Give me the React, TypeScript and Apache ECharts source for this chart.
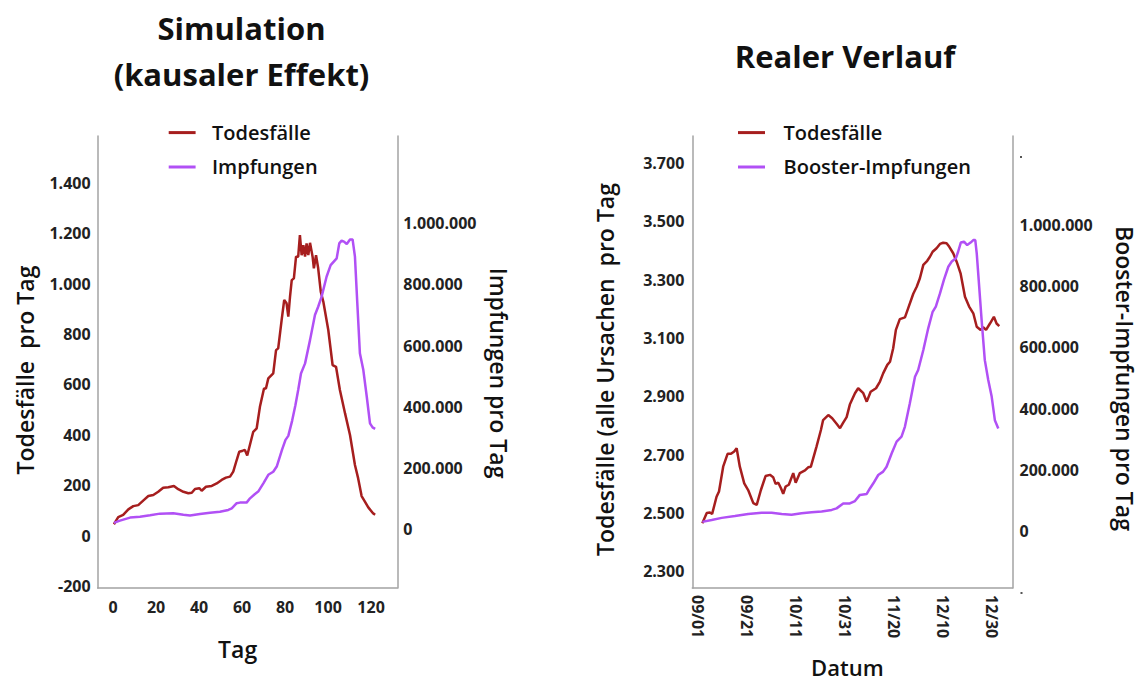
import React, { useEffect, useRef } from "react";
import * as echarts from "echarts";

// ---------- Data ----------
// Simulation (left chart): [Tag, value]
const simDeaths: [number, number][] = [
  [0.4, 45], [2.4, 73], [4.7, 82], [7.1, 104], [9.4, 117], [11.7, 121], [14, 139], [16.4, 157],
  [18.7, 161], [21, 174], [23.3, 190], [25.7, 192], [28.3, 197], [30.3, 184], [32.7, 174], [35, 168],
  [36.6, 170], [38.1, 185], [40.1, 188], [41.2, 178], [43.2, 194], [45.9, 197], [48.2, 207], [50.5, 221],
  [52.5, 230], [54.4, 234], [55.9, 254], [57.5, 300], [58.7, 333], [60.3, 337], [61.3, 340], [62.4, 318],
  [65.2, 412], [66.8, 426], [68.3, 511], [70.2, 584], [71.1, 584], [72.2, 624], [74.5, 644], [75.8, 736],
  [76.8, 743], [78.4, 855], [79.6, 935], [80.7, 922], [81.5, 869], [82.3, 948], [83.1, 1014], [84.1, 1021],
  [85.1, 1107], [86.1, 1107], [86.9, 1193], [87.7, 1113], [88.5, 1153], [89.3, 1107], [90, 1160], [90.8, 1113],
  [91.6, 1162], [92.8, 1107], [93.4, 1061], [94.4, 1113], [95.4, 1061], [96.6, 968], [97.8, 928], [100.1, 816],
  [102.1, 677], [103.7, 670], [105.5, 578], [107.9, 485], [110.2, 399], [112.5, 280], [114, 227], [115.6, 157],
  [117.2, 134], [118.7, 112], [121, 88], [121.9, 83],
];
const simVaccinations: [number, number][] = [
  [0.4, 21000], [3.2, 28000], [7.9, 38000], [12.5, 41000], [17.2, 46000], [21.8, 51000], [28, 52000],
  [32.7, 47000], [35.8, 45000], [40.4, 50000], [45.1, 54000], [49.7, 57000], [53.6, 63000], [55.2, 68000],
  [57.5, 85000], [59, 87000], [62.1, 87000], [63.7, 101000], [66, 115000], [67.5, 123000], [69.9, 150000],
  [72.2, 178000], [74.5, 188000], [76.2, 206000], [78.6, 260000], [80.2, 292000], [81.5, 305000],
  [83.3, 355000], [84.8, 405000], [86.1, 455000], [87.4, 509000], [89.3, 542000], [91.6, 618000],
  [93.9, 700000], [95.4, 727000], [97, 760000], [99.3, 825000], [101.2, 863000], [104, 885000],
  [105.2, 934000], [106.3, 943000], [107.4, 940000], [108.7, 932000], [110.2, 947000], [111.4, 947000],
  [112.5, 891000], [113.6, 738000], [114.8, 575000], [116.4, 520000], [118, 433000], [119.5, 346000],
  [120.7, 333000], [121.9, 328000],
];

// Real course (right chart): [days since 09/01, value]
const realDeaths: [number, number][] = [
  [1.8, 2465], [3.6, 2500], [4.9, 2502], [5.8, 2497], [7.6, 2556], [8.6, 2574], [10.3, 2659], [12.1, 2703],
  [13.5, 2703], [14.8, 2711], [15.8, 2722], [17.1, 2659], [18.9, 2602], [20.5, 2579], [22.6, 2534], [24, 2528],
  [25.7, 2579], [27.6, 2627], [29.4, 2631], [30.7, 2623], [31.7, 2600], [32.8, 2604], [33.9, 2585], [34.8, 2566],
  [35.8, 2591], [37.1, 2597], [38.9, 2637], [39.9, 2604], [41.6, 2637], [43.7, 2646], [45, 2657], [46.1, 2659],
  [48.4, 2728], [50.2, 2785], [51.1, 2819], [53.2, 2836], [54.8, 2825], [56.6, 2806], [58, 2791], [59.3, 2810],
  [60.7, 2829], [62, 2872], [64.1, 2911], [65.4, 2928], [67.5, 2911], [68.9, 2882], [70.5, 2916], [72.7, 2928],
  [74.3, 2951], [75.6, 2979], [77.3, 3008], [78.4, 3019], [79.7, 3065], [80.8, 3128], [82.4, 3165], [84.5, 3171],
  [85.8, 3202], [87.9, 3252], [89.3, 3276], [90.6, 3305], [92, 3351], [93.6, 3365], [94.7, 3379], [95.8, 3396],
  [97.4, 3408], [98.8, 3423], [100.1, 3427], [101.5, 3425], [102.6, 3413], [104.2, 3391], [105.6, 3362],
  [107.2, 3322], [109, 3242], [110.7, 3208], [112.4, 3185], [113.8, 3139], [115.4, 3128], [116.4, 3137],
  [117.6, 3128], [119.2, 3150], [120.8, 3173], [121.9, 3150], [123, 3141],
];
const realBoosters: [number, number][] = [
  [1.8, 30000], [5.6, 36000], [9.7, 43000], [15.1, 49000], [20.5, 56000], [26, 60000], [30.1, 60000],
  [34.2, 56000], [38.2, 53000], [42.3, 58000], [46.4, 61000], [50.5, 64000], [54.6, 69000], [56.6, 74000],
  [59.3, 90000], [62, 90000], [64.1, 98000], [66.1, 118000], [68.9, 121000], [70.2, 139000], [71.6, 156000],
  [73.6, 183000], [75.6, 194000], [77, 210000], [79.1, 254000], [81.1, 292000], [83.1, 308000], [84.5, 341000],
  [86.5, 417000], [88.6, 504000], [89.9, 526000], [92, 591000], [94, 662000], [95.8, 716000], [97.1, 733000],
  [98.8, 776000], [100.4, 820000], [102.2, 863000], [103.6, 880000], [105.3, 891000], [106.2, 912000],
  [107.3, 942000], [108.6, 945000], [109.9, 934000], [111.3, 942000], [112.4, 950000], [113.2, 950000],
  [113.8, 907000], [114.8, 798000], [115.8, 689000], [117.1, 558000], [118.5, 493000], [119.9, 439000],
  [121.2, 362000], [122.6, 335000],
];

// Tick labels
const simDayTicks = [0, 20, 40, 60, 80, 100, 120];
const simDeathTicks = [-200, 0, 200, 400, 600, 800, 1000, 1200, 1400];
const vaxTicks = [0, 200000, 400000, 600000, 800000, 1000000];
const realDayTicks = [0, 20, 40, 60, 80, 100, 120];
const realDateLabels = ["09/01", "09/21", "10/11", "10/31", "11/20", "12/10", "12/30"];
const realDeathTicks = [2300, 2500, 2700, 2900, 3100, 3300, 3500, 3700];

const RED = "#A61E1E";
const PURPLE = "#B150F5";
const AXIS = "#a3a3a3";
const FONT = '"Open Sans", "Noto Sans", sans-serif';

const de = (v: number) => String(v).replace(/\B(?=(\d{3})+(?!\d))/g, ".");

const labelStyle = {
  fontFamily: FONT,
  fontWeight: "bold" as const,
  fontSize: 16,
  color: "#222",
};

function baseAxis() {
  return {
    axisLine: { show: true, onZero: false, lineStyle: { color: AXIS, width: 1.5 } },
    axisTick: { show: false },
    splitLine: { show: false },
  };
}

export default function App() {
  const ref = useRef<HTMLDivElement>(null);

  useEffect(() => {
    if (!ref.current) return;
    const chart = echarts.init(ref.current, undefined, { renderer: "svg" });

    const txt = (
      text: string,
      x: number,
      y: number,
      size: number,
      opts: { weight?: string | number; rotation?: number; align?: string } = {}
    ) => ({
      type: "text",
      x,
      y,
      rotation: opts.rotation || 0,
      style: {
        text,
        fontFamily: FONT,
        fontSize: size,
        fontWeight: opts.weight || 600,
        fill: "#111",
        align: opts.align || "center",
        verticalAlign: "middle",
      },
    });
    const legLine = (x1: number, x2: number, y: number, color: string) => ({
      type: "line",
      shape: { x1, y1: y, x2, y2: y },
      style: { stroke: color, lineWidth: 3 },
    });

    chart.setOption({
      animation: false,
      backgroundColor: "#ffffff",
      grid: [
        { left: 97.6, top: 136, width: 299.7, height: 452 },
        { left: 692.3, top: 136, width: 320.2, height: 452 },
      ],
      xAxis: [
        {
          type: "value",
          gridIndex: 0,
          min: -7.2,
          max: 132.2,
          ...baseAxis(),
          axisLabel: { ...labelStyle, margin: 11, customValues: simDayTicks, formatter: (v: number) => de(v) },
        },
        {
          type: "value",
          gridIndex: 1,
          min: -2.3,
          max: 128.4,
          ...baseAxis(),
          axisLabel: {
            ...labelStyle,
            margin: 7,
            rotate: -90,
            customValues: realDayTicks,
            formatter: (v: number) => {
              const i = realDayTicks.indexOf(v);
              return i >= 0 ? realDateLabels[i] : "";
            },
          },
        },
      ],
      yAxis: [
        {
          type: "value",
          gridIndex: 0,
          position: "left",
          min: -208,
          max: 1586,
          ...baseAxis(),
          axisLabel: { ...labelStyle, margin: 7, customValues: simDeathTicks, formatter: (v: number) => de(v) },
        },
        {
          type: "value",
          gridIndex: 0,
          position: "right",
          min: -192000,
          max: 1285000,
          ...baseAxis(),
          axisLabel: { ...labelStyle, margin: 6, customValues: vaxTicks, formatter: (v: number) => de(v) },
        },
        {
          type: "value",
          gridIndex: 1,
          position: "left",
          min: 2243,
          max: 3793,
          ...baseAxis(),
          axisLabel: { ...labelStyle, margin: 8, customValues: realDeathTicks, formatter: (v: number) => de(v) },
        },
        {
          type: "value",
          gridIndex: 1,
          position: "right",
          min: -186000,
          max: 1290000,
          ...baseAxis(),
          axisLabel: { ...labelStyle, margin: 7, customValues: vaxTicks, formatter: (v: number) => de(v) },
        },
      ],
      series: [
        {
          name: "Todesfälle",
          type: "line",
          xAxisIndex: 0,
          yAxisIndex: 0,
          data: simDeaths,
          showSymbol: false,
          lineStyle: { color: RED, width: 2.5 },
          itemStyle: { color: RED },
        },
        {
          name: "Impfungen",
          type: "line",
          xAxisIndex: 0,
          yAxisIndex: 1,
          data: simVaccinations,
          showSymbol: false,
          lineStyle: { color: PURPLE, width: 2.5 },
          itemStyle: { color: PURPLE },
        },
        {
          name: "Todesfälle ",
          type: "line",
          xAxisIndex: 1,
          yAxisIndex: 2,
          data: realDeaths,
          showSymbol: false,
          lineStyle: { color: RED, width: 2.5 },
          itemStyle: { color: RED },
        },
        {
          name: "Booster-Impfungen",
          type: "line",
          xAxisIndex: 1,
          yAxisIndex: 3,
          data: realBoosters,
          showSymbol: false,
          lineStyle: { color: PURPLE, width: 2.5 },
          itemStyle: { color: PURPLE },
        },
      ],
      graphic: [
        txt("Simulation", 241.5, 28, 31, { weight: "bold" }),
        txt("(kausaler Effekt)", 241.5, 74, 31, { weight: "bold" }),
        txt("Realer Verlauf", 845, 56, 31, { weight: "bold" }),
        // legends
        legLine(168.7, 195.6, 132.6, RED),
        txt("Todesfälle", 212, 132, 20, { align: "left" }),
        legLine(168.7, 195.6, 167, PURPLE),
        txt("Impfungen", 212, 166.5, 20, { align: "left" }),
        legLine(738, 765, 132.6, RED),
        txt("Todesfälle", 783.5, 132, 20, { align: "left" }),
        legLine(738, 765, 167, PURPLE),
        txt("Booster-Impfungen", 783.5, 166.5, 20, { align: "left" }),
        // axis titles
        txt("Todesfälle  pro Tag", 24.6, 370, 23, { rotation: Math.PI / 2 }),
        txt("Impfungen pro Tag", 498.7, 373, 23, { rotation: -Math.PI / 2 }),
        txt("Tag", 237.6, 649, 23),
        txt("Todesfälle (alle Ursachen  pro Tag", 605, 369.5, 23, { rotation: Math.PI / 2 }),
        txt("Booster-Impfungen pro Tag", 1125.4, 378.5, 23, { rotation: -Math.PI / 2 }),
        txt("Datum", 847.4, 667, 22),
        // small marks at right axis ends
        { type: "rect", shape: { x: 1020, y: 156, width: 2, height: 2 }, style: { fill: "#555" } },
        { type: "rect", shape: { x: 1020.5, y: 592, width: 2, height: 2 }, style: { fill: "#555" } },
      ],
    });

    return () => chart.dispose();
  }, []);

  return (
    <div
      ref={ref}
      style={{ position: "fixed", left: 0, top: 0, width: 1140, height: 683, background: "#fff" }}
    />
  );
}
